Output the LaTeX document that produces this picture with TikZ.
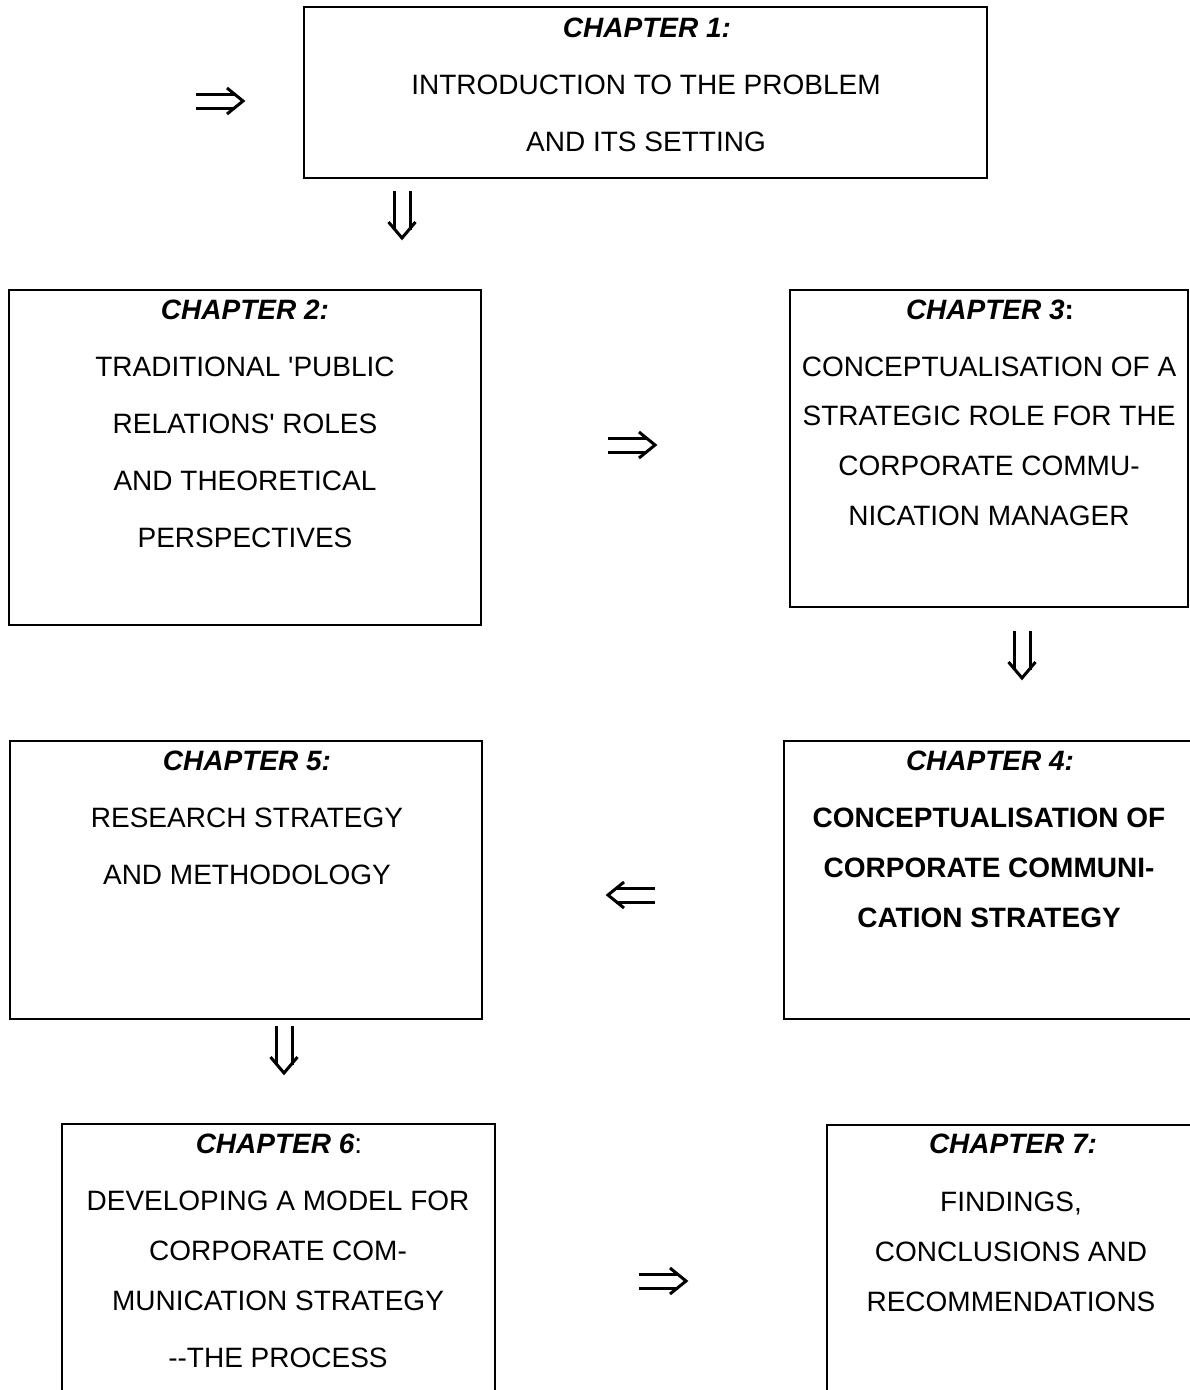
\documentclass[tikz,border=0pt]{standalone}
\usepackage{fontspec}
\setmainfont{Liberation Sans}[Ligatures=TeXOff]
\begin{document}
\begin{tikzpicture}[x=1pt,y=-1pt,
  box/.style={draw, line width=1.8pt, inner sep=0pt, outer sep=0pt, anchor=north west},
  txt/.style={anchor=base, inner sep=0pt, font=\fontsize{28}{30}\selectfont},
  ttl/.style={txt, font=\fontsize{28}{30}\selectfont\bfseries\itshape},
  btxt/.style={txt, font=\fontsize{28}{30}\selectfont\bfseries},
  arrline/.style={line width=3pt, line join=miter},
  rdbl/.pic={\draw[arrline] (-47,-7)--(-8,-7) (-47,7)--(-8,7);
             \draw[arrline] (-16,-13)--(0,0)--(-16,13);},
  ddbl/.pic={\draw[arrline] (-8,-47)--(-8,-8) (8,-47)--(8,-8);
             \draw[arrline] (-13.5,-16)--(0,0)--(13.5,-16);}
]
\useasboundingbox (0,0) rectangle (1190,1390);
\clip (0,0) rectangle (1190,1390);
\fill[white] (0,0) rectangle (1190,1390);

% boxes
\node[box, minimum width=683, minimum height=171] (b1) at (304,7) {};
\node[box, minimum width=472, minimum height=335] (b2) at (9,290) {};
\node[box, minimum width=398, minimum height=317] (b3) at (790,290) {};
\node[box, minimum width=430, minimum height=278] (b4) at (784,741) {};
\node[box, minimum width=472, minimum height=278] (b5) at (10,741) {};
\node[box, minimum width=433, minimum height=300] (b6) at (62,1124) {};
\node[box, minimum width=400, minimum height=300] (b7) at (827,1125) {};

% chapter 1
\node[ttl] (t1) at (647,37) {CHAPTER 1:};
\node[txt] (t1a) at (646,94) {INTRODUCTION TO THE PROBLEM};
\node[txt] (t1b) at (646,151) {AND ITS SETTING};

% chapter 2
\node[ttl] (t2) at (245,319) {CHAPTER 2:};
\node[txt] (t2a) at (245,376) {TRADITIONAL 'PUBLIC};
\node[txt] (t2b) at (245,433) {RELATIONS' ROLES};
\node[txt] (t2c) at (245,490) {AND THEORETICAL};
\node[txt] (t2d) at (245,547) {PERSPECTIVES};

% chapter 3
\node[txt] (t3) at (990,319) {\bfseries\itshape CHAPTER 3\upshape:};
\node[txt] (t3a) at (989,376) {CONCEPTUALISATION OF A};
\node[txt] (t3b) at (989,425) {STRATEGIC ROLE FOR THE};
\node[txt] (t3c) at (989,475) {CORPORATE COMMU-};
\node[txt] (t3d) at (989,525) {NICATION MANAGER};

% chapter 4
\node[ttl] (t4) at (990,770) {CHAPTER 4:};
\node[btxt] (t4a) at (989,827) {CONCEPTUALISATION OF};
\node[btxt] (t4b) at (989,877) {CORPORATE COMMUNI-};
\node[btxt] (t4c) at (989,927) {CATION STRATEGY};

% chapter 5
\node[ttl] (t5) at (247,770) {CHAPTER 5:};
\node[txt] (t5a) at (247,827) {RESEARCH STRATEGY};
\node[txt] (t5b) at (247,884) {AND METHODOLOGY};

% chapter 6
\node[txt] (t6) at (279,1153) {\bfseries\itshape CHAPTER 6\normalfont:};
\node[txt] (t6a) at (278,1210) {DEVELOPING A MODEL FOR};
\node[txt] (t6b) at (278,1260) {CORPORATE COM-};
\node[txt] (t6c) at (278,1310) {MUNICATION STRATEGY};
\node[txt] (t6d) at (278,1367) {--THE PROCESS};

% chapter 7
\node[ttl] (t7) at (1013,1153) {CHAPTER 7:};
\node[txt] (t7a) at (1011,1211) {FINDINGS,};
\node[txt] (t7b) at (1011,1261) {CONCLUSIONS AND};
\node[txt] (t7c) at (1011,1311) {RECOMMENDATIONS};

% arrow symbols
\pic at (243,101) {rdbl};
\pic at (402,238) {ddbl};
\pic at (655,445) {rdbl};
\pic at (1022,678) {ddbl};
\pic[xscale=-1] at (608,895) {rdbl};
\pic at (284,1073) {ddbl};
\pic at (686,1281) {rdbl};
\end{tikzpicture}
\end{document}
